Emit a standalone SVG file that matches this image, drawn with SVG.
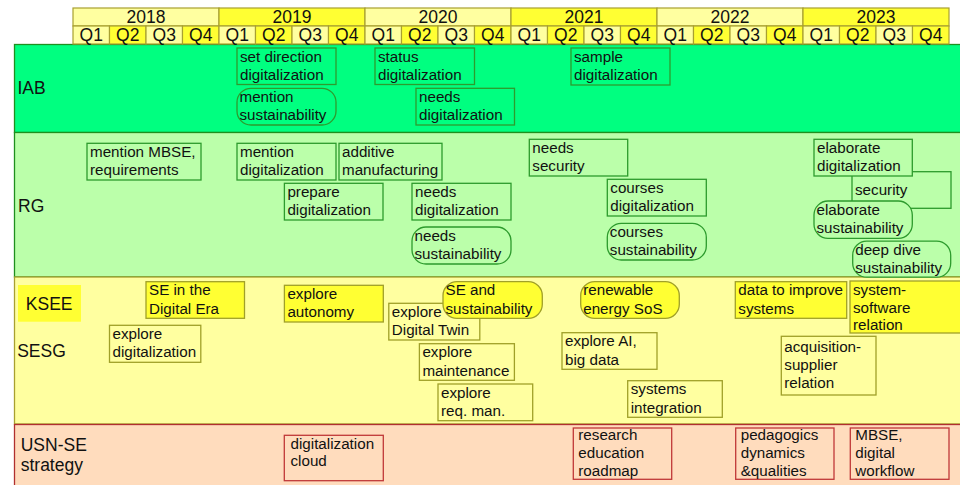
<svg xmlns="http://www.w3.org/2000/svg" width="960" height="485" viewBox="0 0 960 485">
<style>
text{font-family:"Liberation Sans",Arial,sans-serif;fill:#111}
.h{font-size:17.5px;text-anchor:middle}
.lbl{font-size:17.5px}
.t{font-size:15.2px}
.hl{fill:#ffffa0;stroke:#a8a030;stroke-width:1.2}
.hb{fill:#ffff33;stroke:#a8a030;stroke-width:1.2}
.bIAB{fill:#00ff80;stroke:#1f8f1f;stroke-width:1.3}
.bRG{fill:#bbffaa;stroke:#1f8f1f;stroke-width:1.3}
.bSE{fill:#ffffa0;stroke:#a8a030;stroke-width:1.3}
.bUSN{fill:#ffdcbd;stroke:#b03030;stroke-width:1.3}
.nIAB{fill:#00ff80;stroke:#2d9b2d;stroke-width:1.3}
.nRG{fill:#bbffaa;stroke:#2d9b2d;stroke-width:1.3}
.nSE{fill:#ffffa0;stroke:#a0a028;stroke-width:1.3}
.nK{fill:#ffff33;stroke:#a0a028;stroke-width:1.3}
.nU{fill:#ffdcbd;stroke:#c03838;stroke-width:1.3}
</style>
<rect width="960" height="485" fill="#ffffff"/>
<g id="bands">
<rect class="bIAB" x="14.5" y="44.5" width="960" height="88"/>
<rect class="bRG" x="14.5" y="132.5" width="960" height="144.5"/>
<rect class="bSE" x="14.5" y="277" width="960" height="147"/>
<rect class="bUSN" x="14.5" y="424.5" width="960" height="70"/>
</g>
<g id="header">
<rect class="hl" x="73" y="8" width="146" height="18"/>
<rect class="hb" x="219" y="8" width="146" height="18"/>
<rect class="hl" x="365" y="8" width="146" height="18"/>
<rect class="hb" x="511" y="8" width="146" height="18"/>
<rect class="hl" x="657" y="8" width="146" height="18"/>
<rect class="hb" x="803" y="8" width="146" height="18"/>
<text class="h" x="146" y="22.7">2018</text>
<text class="h" x="292" y="22.7">2019</text>
<text class="h" x="438" y="22.7">2020</text>
<text class="h" x="584" y="22.7">2021</text>
<text class="h" x="730" y="22.7">2022</text>
<text class="h" x="876" y="22.7">2023</text>
<rect class="hl" x="73" y="26" width="36.5" height="18"/><rect class="hb" x="109.5" y="26" width="36.5" height="18"/><rect class="hl" x="146" y="26" width="36.5" height="18"/><rect class="hb" x="182.5" y="26" width="36.5" height="18"/>
<rect class="hl" x="219" y="26" width="36.5" height="18"/><rect class="hb" x="255.5" y="26" width="36.5" height="18"/><rect class="hl" x="292" y="26" width="36.5" height="18"/><rect class="hb" x="328.5" y="26" width="36.5" height="18"/>
<rect class="hl" x="365" y="26" width="36.5" height="18"/><rect class="hb" x="401.5" y="26" width="36.5" height="18"/><rect class="hl" x="438" y="26" width="36.5" height="18"/><rect class="hb" x="474.5" y="26" width="36.5" height="18"/>
<rect class="hl" x="511" y="26" width="36.5" height="18"/><rect class="hb" x="547.5" y="26" width="36.5" height="18"/><rect class="hl" x="584" y="26" width="36.5" height="18"/><rect class="hb" x="620.5" y="26" width="36.5" height="18"/>
<rect class="hl" x="657" y="26" width="36.5" height="18"/><rect class="hb" x="693.5" y="26" width="36.5" height="18"/><rect class="hl" x="730" y="26" width="36.5" height="18"/><rect class="hb" x="766.5" y="26" width="36.5" height="18"/>
<rect class="hl" x="803" y="26" width="36.5" height="18"/><rect class="hb" x="839.5" y="26" width="36.5" height="18"/><rect class="hl" x="876" y="26" width="36.5" height="18"/><rect class="hb" x="912.5" y="26" width="36.5" height="18"/>
<text class="h" x="91.25" y="40.7">Q1</text><text class="h" x="127.75" y="40.7">Q2</text><text class="h" x="164.25" y="40.7">Q3</text><text class="h" x="200.75" y="40.7">Q4</text>
<text class="h" x="237.25" y="40.7">Q1</text><text class="h" x="273.75" y="40.7">Q2</text><text class="h" x="310.25" y="40.7">Q3</text><text class="h" x="346.75" y="40.7">Q4</text>
<text class="h" x="383.25" y="40.7">Q1</text><text class="h" x="419.75" y="40.7">Q2</text><text class="h" x="456.25" y="40.7">Q3</text><text class="h" x="492.75" y="40.7">Q4</text>
<text class="h" x="529.25" y="40.7">Q1</text><text class="h" x="565.75" y="40.7">Q2</text><text class="h" x="602.25" y="40.7">Q3</text><text class="h" x="638.75" y="40.7">Q4</text>
<text class="h" x="675.25" y="40.7">Q1</text><text class="h" x="711.75" y="40.7">Q2</text><text class="h" x="748.25" y="40.7">Q3</text><text class="h" x="784.75" y="40.7">Q4</text>
<text class="h" x="821.25" y="40.7">Q1</text><text class="h" x="857.75" y="40.7">Q2</text><text class="h" x="894.25" y="40.7">Q3</text><text class="h" x="930.75" y="40.7">Q4</text>
</g>
<g id="labels">
<text class="lbl" x="17.5" y="94">IAB</text>
<text class="lbl" x="18" y="212">RG</text>
<rect x="18" y="285" width="63" height="36.7" fill="#ffff33"/>
<text class="lbl" x="25.8" y="309.5">KSEE</text>
<text class="lbl" x="17.2" y="356.7">SESG</text>
<text class="lbl" x="20.7" y="450.7">USN-SE</text>
<text class="lbl" x="20.7" y="471">strategy</text>
</g>
<g id="iab_setdir"><rect class="nIAB" x="237" y="48" width="99" height="36.5"/><text class="t" x="240" y="61.7">set direction</text><text class="t" x="240" y="80">digitalization</text></g>
<g id="iab_mention_sust"><rect class="nIAB" x="237" y="88.3" width="99" height="36.7" rx="14"/><text class="t" x="239.5" y="102">mention</text><text class="t" x="239.5" y="120.3">sustainability</text></g>
<g id="iab_status"><rect class="nIAB" x="375" y="48" width="99.5" height="36.5"/><text class="t" x="378" y="61.7">status</text><text class="t" x="378" y="80">digitalization</text></g>
<g id="iab_needs_dig"><rect class="nIAB" x="416" y="88.3" width="98.5" height="36.7"/><text class="t" x="419" y="102">needs</text><text class="t" x="419" y="120.3">digitalization</text></g>
<g id="iab_sample"><rect class="nIAB" x="571" y="48" width="99" height="37"/><text class="t" x="574" y="61.7">sample</text><text class="t" x="574" y="80">digitalization</text></g>
<g id="rg_mbse"><rect class="nRG" x="87" y="143.3" width="114" height="36.7"/><text class="t" x="90" y="156.8">mention MBSE,</text><text class="t" x="90" y="175.1">requirements</text></g>
<g id="rg_mention_dig"><rect class="nRG" x="237" y="143.3" width="99" height="36.7"/><text class="t" x="240" y="156.8">mention</text><text class="t" x="240" y="175.1">digitalization</text></g>
<g id="rg_additive"><rect class="nRG" x="339" y="143.3" width="103" height="36.7"/><text class="t" x="342" y="156.8">additive</text><text class="t" x="342" y="175.1">manufacturing</text></g>
<g id="rg_prepare"><rect class="nRG" x="284.4" y="183.3" width="98.6" height="36.7"/><text class="t" x="287.4" y="196.8">prepare</text><text class="t" x="287.4" y="215.1">digitalization</text></g>
<g id="rg_needs_dig"><rect class="nRG" x="412" y="183.3" width="99" height="36.7"/><text class="t" x="415" y="196.8">needs</text><text class="t" x="415" y="215.1">digitalization</text></g>
<g id="rg_needs_sust"><rect class="nRG" x="412" y="227" width="99" height="37" rx="14"/><text class="t" x="414.5" y="240.5">needs</text><text class="t" x="414.5" y="258.8">sustainability</text></g>
<g id="rg_needs_sec"><rect class="nRG" x="529.3" y="139.3" width="98.4" height="36.7"/><text class="t" x="532.3" y="152.8">needs</text><text class="t" x="532.3" y="171.1">security</text></g>
<g id="rg_courses_dig"><rect class="nRG" x="607.3" y="179.3" width="99" height="36.7"/><text class="t" x="610.3" y="192.8">courses</text><text class="t" x="610.3" y="211.1">digitalization</text></g>
<g id="rg_courses_sust"><rect class="nRG" x="607.3" y="223.3" width="99" height="36.7" rx="14"/><text class="t" x="609.8" y="236.8">courses</text><text class="t" x="609.8" y="255.1">sustainability</text></g>
<g id="rg_security"><rect class="nRG" x="852" y="171.7" width="99" height="36.6"/><text class="t" x="855" y="195">security</text></g>
<g id="rg_elab_dig"><rect class="nRG" x="814" y="139.3" width="98.3" height="36.7"/><text class="t" x="817" y="152.8">elaborate</text><text class="t" x="817" y="171.1">digitalization</text></g>
<g id="rg_elab_sust"><rect class="nRG" x="814" y="201" width="98.3" height="37.3" rx="14"/><text class="t" x="816.5" y="214.5">elaborate</text><text class="t" x="816.5" y="232.8">sustainability</text></g>
<g id="rg_deep_dive"><rect class="nRG" x="852.7" y="241.2" width="98" height="36" rx="14"/><text class="t" x="855.2" y="254.7">deep dive</text><text class="t" x="855.2" y="273">sustainability</text></g>
<g id="ksee_se_digital"><rect class="nK" x="146" y="281.7" width="98.5" height="36.6"/><text class="t" x="149" y="295.2">SE in the</text><text class="t" x="149" y="313.5">Digital Era</text></g>
<g id="ksee_autonomy"><rect class="nK" x="284.4" y="285.3" width="98.9" height="36.7"/><text class="t" x="287.4" y="299">explore</text><text class="t" x="287.4" y="317.3">autonomy</text></g>
<g id="sesg_expl_dig"><rect class="nSE" x="109.5" y="325.3" width="91.3" height="37"/><text class="t" x="112.5" y="339">explore</text><text class="t" x="112.5" y="357.3">digitalization</text></g>
<g id="sesg_digital_twin"><rect class="nSE" x="388.8" y="303.3" width="91" height="36.7"/><text class="t" x="391.8" y="317">explore</text><text class="t" x="391.8" y="335.3">Digital Twin</text></g>
<g id="ksee_se_sust"><rect class="nK" x="443" y="281.7" width="99.3" height="36.6" rx="14"/><text class="t" x="445.5" y="295.2">SE and</text><text class="t" x="445.5" y="313.5">sustainability</text></g>
<g id="sesg_maint"><rect class="nSE" x="419.4" y="343.7" width="95" height="36.6"/><text class="t" x="422.4" y="357.4">explore</text><text class="t" x="422.4" y="375.7">maintenance</text></g>
<g id="sesg_reqman"><rect class="nSE" x="438" y="384" width="94.7" height="36.7"/><text class="t" x="441" y="397.7">explore</text><text class="t" x="441" y="416">req. man.</text></g>
<g id="ksee_renewable"><rect class="nK" x="580.7" y="281.7" width="98.6" height="36.6" rx="14"/><text class="t" x="583.2" y="295.2">renewable</text><text class="t" x="583.2" y="313.5">energy SoS</text></g>
<g id="sesg_ai"><rect class="nSE" x="562" y="332.7" width="95" height="36.6"/><text class="t" x="565" y="346.4">explore AI,</text><text class="t" x="565" y="364.7">big data</text></g>
<g id="sesg_sysint"><rect class="nSE" x="627.7" y="380.7" width="94.6" height="36.6"/><text class="t" x="630.7" y="394.4">systems</text><text class="t" x="630.7" y="412.7">integration</text></g>
<g id="ksee_data"><rect class="nK" x="735.3" y="281.7" width="111.4" height="36.6"/><text class="t" x="738.3" y="295.2">data to improve</text><text class="t" x="738.3" y="313.5">systems</text></g>
<g id="ksee_syssw"><rect class="nK" x="850" y="281" width="115" height="52"/><text class="t" x="853" y="295">system-</text><text class="t" x="853" y="312.5">software</text><text class="t" x="853" y="330">relation</text></g>
<g id="sesg_acq"><rect class="nSE" x="781.3" y="336.3" width="94.7" height="58.7"/><text class="t" x="784.3" y="351.7">acquisition-</text><text class="t" x="784.3" y="370">supplier</text><text class="t" x="784.3" y="388.3">relation</text></g>
<g id="usn_digcloud"><rect class="nU" x="284.3" y="435.3" width="99" height="45.4"/><text class="t" x="290.5" y="449">digitalization</text><text class="t" x="290.5" y="466.3">cloud</text></g>
<g id="usn_research"><rect class="nU" x="573.3" y="428" width="98.4" height="51.3"/><text class="t" x="578.3" y="439.7">research</text><text class="t" x="578.3" y="458">education</text><text class="t" x="578.3" y="476.3">roadmap</text></g>
<g id="usn_pedagogics"><rect class="nU" x="735.7" y="428" width="98.3" height="51.3"/><text class="t" x="740.7" y="439.7">pedagogics</text><text class="t" x="740.7" y="458">dynamics</text><text class="t" x="740.7" y="476.3">&amp;qualities</text></g>
<g id="usn_mbse"><rect class="nU" x="850.3" y="428" width="98.7" height="51.3"/><text class="t" x="855.3" y="439.7">MBSE,</text><text class="t" x="855.3" y="458">digital</text><text class="t" x="855.3" y="476.3">workflow</text></g>
</svg>
